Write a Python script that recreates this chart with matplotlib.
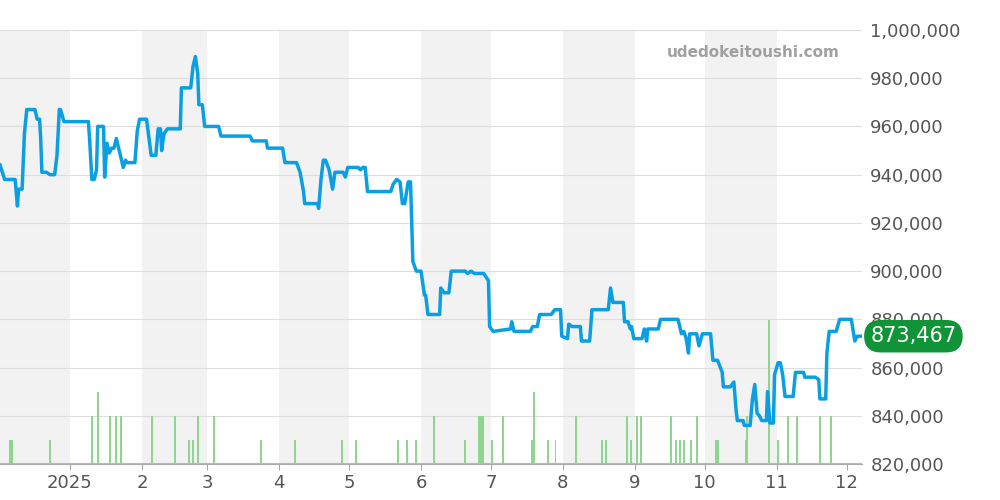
import matplotlib
matplotlib.use("Agg")
import matplotlib.pyplot as plt

# x values: days since 2024-11-30 (day 31 = 2025-01-01)
price_days = [1,3,7.5,8.5,9,10.5,11.5,12.5,16,17,18,18.5,19,21,22.5,24.5,25.5,26.5,27,28.5,39,39.5,40.5,41.5,42.5,43,45.5,46,47,48,49,50,51,52,53,54,55,55.5,59,60,61,64,66,68,69,70,70.5,71.5,73,78.5,79,83,84,85,86,86.5,88,89,95,96,108.5,109.5,115.5,116,122.5,123.5,128.5,130,131.5,132,137.5,138,139,140,141,142.5,144,145,148.5,149.5,150.5,155,156,157,158,159,169,170,171.5,173,174,175,176.5,177.5,178.5,180,182,183.5,184,185,190,190.5,192,194,195,201,202,203.5,205,209,211,211.5,213,220.5,221,222,229,230,232,233,238,239.5,242,242.5,245,245.5,247,250.5,251,254.5,255.5,262.5,263.5,264.5,269,269.5,271,272,272.5,273.5,277,278,279,279.5,284,285,292.5,293.5,294,295,296,297,297.5,300.5,301.5,303,306.5,307.5,309.5,311.5,312,315,316.5,317.5,318,320.5,321,323.5,324.5,325.5,326.5,327.5,328.5,330.5,331,332,333.5,334,335.5,336.5,337.5,338.5,342,343,346.5,347,351.5,353,353.5,356,356.5,357.5,360.5,362,367,368.5,369.5,371.5]
price_vals = [944,938,938,927,934,934,957,967,967,963,963,955,941,941,940,940,948,967,967,962,962,955,938,938,942,960,960,939,953,949,951,951,955,951,947,943,946,945,945,958,963,963,948,948,959,959,950,957,959,959,976,976,985,989,982,969,969,960,960,956,956,954,954,951,951,945,945,941,933,928,928,926,938,946,946,942,934,941,941,939,943,943,942,943,943,933,933,936,938,937,928,928,937,937,904,900,900,890,890,882,882,893,891,891,900,900,899,900,899,899,896,877,875,876,879,875,875,877,877,882,882,884,884,873,872,878,877,877,871,871,884,884,893,887,887,879,879,876,877,872,872,876,871,876,876,880,880,876,874,875,872,866,874,874,869,874,874,863,863,858,852,852,854,842,838,838,836,836,847,853,841,840,838,838,850,837,837,857,862,862,857,848,848,858,858,856,856,855,847,847,866,875,875,880,880,871,873,873]
price_vals = [v * 1000 for v in price_vals]

vol_days = [5.3,6.2,22.5,40.6,43.1,48.3,50.9,53,66.4,76.3,82.3,84,86.1,93,113.2,127.9,148.1,154.1,172.1,176,179.9,187.6,201,207,207.8,208.7,212.6,217.3,229.8,230.6,236.6,239.7,248.7,259.9,261.6,270.6,272.3,274.9,276.6,289.5,291.7,293.4,295.1,298.1,300.7,308.9,309.7,321.4,322.2,331.7,335.5,339.8,343.7,353.6,358.3]
vol_vals = [1,1,1,2,3,2,2,2,2,2,1,1,2,2,1,1,1,1,1,1,1,2,1,2,2,2,1,2,1,3,1,1,2,1,1,2,1,2,2,2,1,1,1,1,2,1,1,1,2,6,1,2,2,2,2]

month_starts = [0, 31, 62, 90, 121, 151, 182, 212, 243, 274, 304, 335, 365]
tick_labels = ["2025", "2", "3", "4", "5", "6", "7", "8", "9", "10", "11", "12"]
yticks = list(range(820000, 1000001, 20000))
last_label = "873,467"

fig = plt.figure(figsize=(10, 5), dpi=100)
ax = fig.add_axes([0.0, 0.072, 0.862, 0.868])
xmin, xmax = 1, 371.6
for i in range(len(month_starts) - 1):
    if i % 2 == 0:
        ax.axvspan(max(month_starts[i], xmin), min(month_starts[i + 1], xmax), color="#f2f2f2", lw=0, zorder=0)

ax2 = ax.twinx()
ax2.set_ylim(0, 18.1)
ax2.axis("off")
ax2.bar(vol_days, vol_vals, width=0.6, color="#8fd48f", lw=0, zorder=2)
ax2.axhline(0.04, color="#8fd48f", lw=0.8)
ax2.set_xlim(xmin, xmax)

ax3 = ax.twinx()
ax3.axis("off")
ax3.set_ylim(820000, 1000000)
ax3.set_xlim(xmin, xmax)
ax3.plot(price_days, price_vals, color="#0a9fe3", lw=2.5, zorder=3, solid_joinstyle="round")

ax.set_xlim(xmin, xmax)
ax.set_ylim(820000, 1000000)
ax.set_yticks(yticks)
ax.set_yticklabels([f"{v:,}" for v in yticks])
ax.yaxis.tick_right()
ax.set_xticks(month_starts[1:])
ax.set_xticklabels(tick_labels)
ax.tick_params(axis="both", length=0, labelsize=13, colors="#555555")
ax.tick_params(axis="y", pad=6, labelright=True, labelleft=False)
ax.tick_params(axis="x", length=4, color="#aaaaaa", pad=3)
ax.grid(axis="y", color="#dddddd", lw=0.8, zorder=1)
for s in ax.spines.values():
    s.set_visible(False)
ax.spines["bottom"].set_visible(True)
ax.spines["bottom"].set_color("#aaaaaa")

fig.text(0.84, 0.895, "udedokeitoushi.com", ha="right", va="center", fontsize=11,
         fontweight="bold", color="#a0a0a0")

ax3.annotate(last_label, xy=(1.0, price_vals[-1]), xycoords=("axes fraction", "data"),
             xytext=(6, 0), textcoords="offset points", ha="left", va="center",
             fontsize=15, color="white",
             bbox=dict(boxstyle="round,pad=0.3,rounding_size=0.8", fc="#109437", ec="none"),
             annotation_clip=False, zorder=10)

fig.savefig("out.png", dpi=100)
